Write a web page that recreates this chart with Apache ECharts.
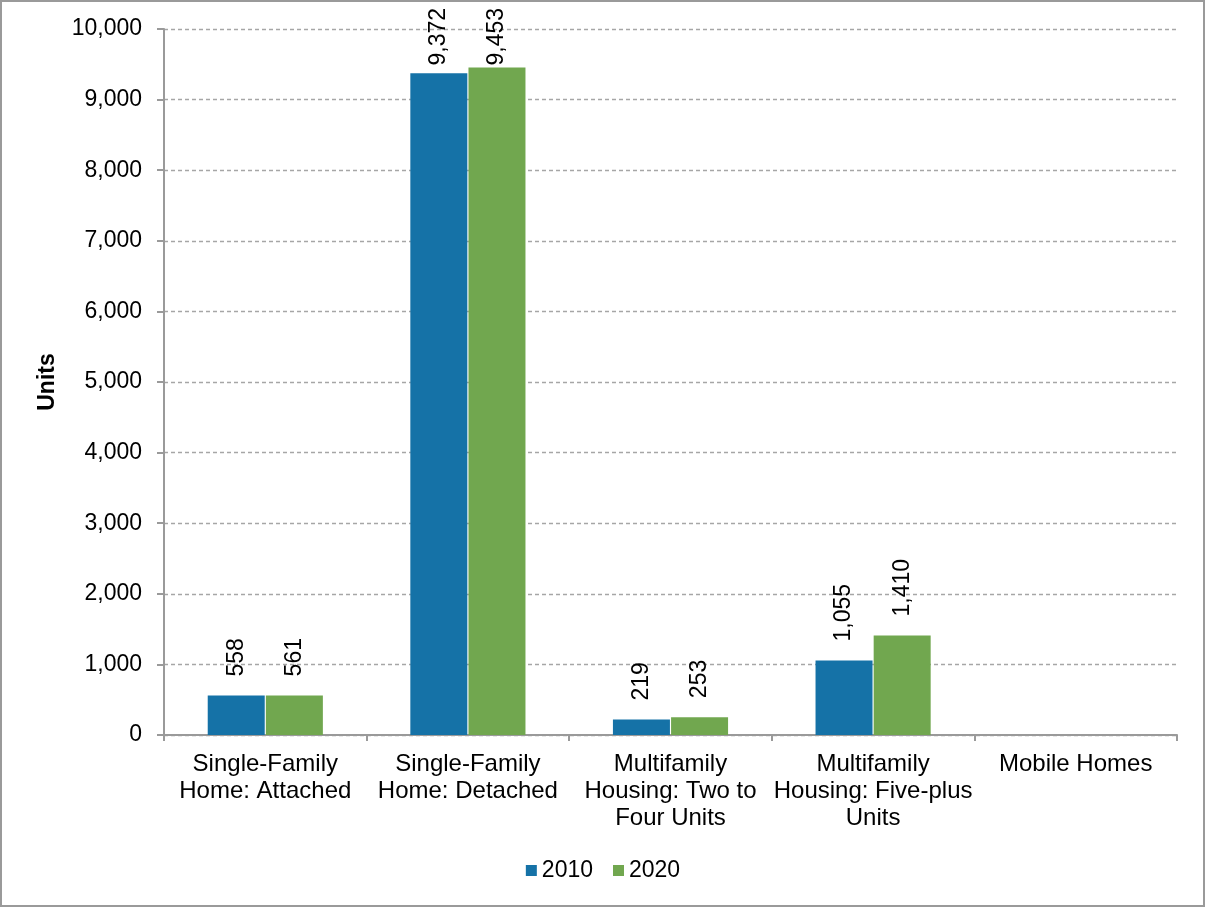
<!DOCTYPE html>
<html>
<head>
<meta charset="utf-8">
<script src="https://cdn.jsdelivr.net/npm/echarts@6/dist/echarts.min.js"></script>
<style>
  html, body { margin: 0; padding: 0; background: #fff; }
  #chart { width: 1206px; height: 909px; }
</style>
</head>
<body>
<div id="chart"></div>
<script>
// Housing units by structure type, 2010 vs 2020
const categories = [
  'Single-Family\nHome: Attached',
  'Single-Family\nHome: Detached',
  'Multifamily\nHousing: Two to\nFour Units',
  'Multifamily\nHousing: Five-plus\nUnits',
  'Mobile Homes'
];
const units2010 = [558, 9372, 219, 1055, null];
const units2020 = [561, 9453, 253, 1410, null];
const yTicks = [0, 1000, 2000, 3000, 4000, 5000, 6000, 7000, 8000, 9000, 10000];

const FONT = 'Liberation Sans, Arial, sans-serif';
const LABEL_SIZE = 23;
const LABEL_GAP = 19;   // usual gap between bar top and its value label
const TOP_LIMIT = 8;    // labels may not rise above this y
const fmt = v => v.toLocaleString('en-US');

const chart = echarts.init(document.getElementById('chart'), null, { renderer: 'canvas' });

const barLabel = {
  show: true,
  position: 'top',
  rotate: 90,
  align: 'left',
  verticalAlign: 'middle',
  distance: LABEL_GAP,
  color: '#000',
  fontFamily: FONT,
  fontSize: LABEL_SIZE,
  formatter: p => fmt(p.value)
};

const baseOption = {
  animation: false,
  backgroundColor: '#fff',
  graphic: [{
    type: 'rect',
    shape: { x: 1, y: 1, width: 1203, height: 905 },
    style: { fill: 'none', stroke: '#9a9a9a', lineWidth: 2 },
    silent: true
  }],
  grid: { left: 164, right: 29, top: 29, bottom: 174, containLabel: false },
  legend: {
    data: ['2010', '2020'],
    left: 'center',
    top: 854,
    icon: 'rect',
    itemWidth: 11,
    itemHeight: 11,
    itemGap: 20,
    textStyle: { fontFamily: FONT, fontSize: 23, color: '#000' }
  },
  xAxis: {
    type: 'category',
    data: categories,
    axisLine: { show: true, lineStyle: { color: '#9a9a9a', width: 2 } },
    axisTick: { show: true, length: 6, alignWithLabel: false, lineStyle: { color: '#9a9a9a', width: 2 } },
    axisLabel: {
      interval: 0,
      margin: 16,
      color: '#000',
      fontFamily: FONT,
      fontSize: 24,
      lineHeight: 27
    }
  },
  yAxis: {
    type: 'value',
    min: yTicks[0],
    max: yTicks[yTicks.length - 1],
    interval: 1000,
    name: 'Units',
    nameLocation: 'middle',
    nameGap: 105,
    nameRotate: 90,
    nameTextStyle: { fontFamily: FONT, fontSize: 23, fontWeight: 'bold', color: '#000' },
    axisLine: { show: true, lineStyle: { color: '#9a9a9a', width: 2 } },
    axisTick: { show: true, length: 7, lineStyle: { color: '#9a9a9a', width: 2 } },
    axisLabel: {
      margin: 22,
      color: '#000',
      fontFamily: FONT,
      fontSize: 23,
      formatter: v => fmt(v)
    },
    splitLine: { show: true, lineStyle: { color: '#a6a6a6', width: 1.3, type: [4, 3] } }
  },
  series: [
    { name: '2010', type: 'bar', data: units2010, barWidth: 57, barGap: '2%',
      itemStyle: { color: '#1572a7' }, label: barLabel },
    { name: '2020', type: 'bar', data: units2020, barWidth: 57, barGap: '2%',
      itemStyle: { color: '#71a74f' }, label: barLabel }
  ]
};

chart.setOption(baseOption);

// Pull value labels closer to tall bars so they stay inside the chart.
const ctx = document.createElement('canvas').getContext('2d');
ctx.font = LABEL_SIZE + 'px ' + FONT;
const fitLabels = (values, seriesIndex) => values.map((v, i) => {
  if (v == null) return v;
  const top = chart.convertToPixel({ seriesIndex }, [i, v])[1];
  const len = ctx.measureText(fmt(v)).width;
  const d = Math.min(LABEL_GAP, top - TOP_LIMIT - len);
  return d < LABEL_GAP ? { value: v, label: { distance: Math.max(d, 2) } } : v;
});

chart.setOption({
  series: [
    { data: fitLabels(units2010, 0) },
    { data: fitLabels(units2020, 1) }
  ]
});
</script>
</body>
</html>
